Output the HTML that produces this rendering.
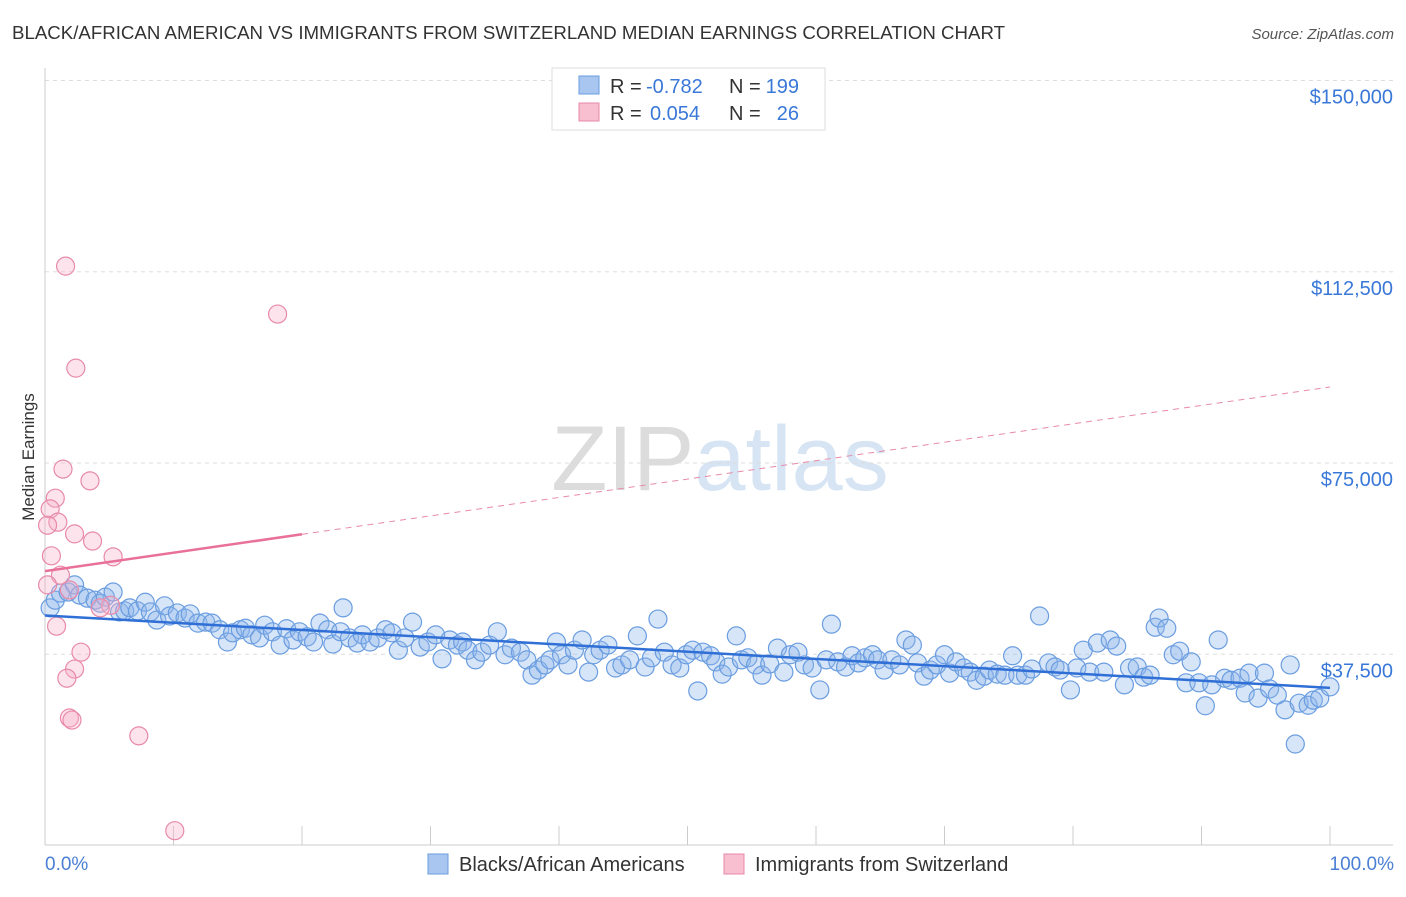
<!DOCTYPE html>
<html><head><meta charset="utf-8">
<style>
body{margin:0;background:#fff;font-family:"Liberation Sans",sans-serif;}
svg text{font-family:"Liberation Sans",sans-serif;}
</style></head>
<body>
<svg id="chart" width="1406" height="892" xmlns="http://www.w3.org/2000/svg">
<text x="12" y="39" font-size="18" fill="#333" textLength="993" lengthAdjust="spacingAndGlyphs">BLACK/AFRICAN AMERICAN VS IMMIGRANTS FROM SWITZERLAND MEDIAN EARNINGS CORRELATION CHART</text>
<text x="1394" y="39" font-size="15" fill="#555" text-anchor="end" font-style="italic">Source: ZipAtlas.com</text>
<text x="720" y="490" font-size="92" fill="#e6e6e6" text-anchor="middle" font-family="Liberation Serif"><tspan fill="#dcdcdc">ZIP</tspan><tspan fill="#d6e4f4" font-family="Liberation Sans">atlas</tspan></text>
<g id="grid"></g>
<g id="axes"></g>
<g id="marks"></g>
<text transform="translate(34,457) rotate(-90)" font-size="17" fill="#333" text-anchor="middle">Median Earnings</text>
<text x="45" y="870" font-size="19" fill="#4a7fd4">0.0%</text>
<text x="1394" y="870" font-size="19" fill="#4a7fd4" text-anchor="end">100.0%</text>
<g>
<rect x="552" y="68" width="273" height="62" fill="#fff" stroke="#ddd"/>
<rect x="579" y="76" width="20" height="18" fill="#a9c6f0" stroke="#6a9de0"/>
<rect x="579" y="103" width="20" height="18" fill="#f7bfd0" stroke="#e88aa8"/>
<text x="610" y="93" font-size="20" fill="#333">R =</text>
<text x="646" y="93" font-size="20" fill="#3a78d8">-0.782</text>
<text x="729" y="93" font-size="20" fill="#333">N =</text>
<text x="799" y="93" font-size="20" fill="#3a78d8" text-anchor="end">199</text>
<text x="610" y="120" font-size="20" fill="#333">R =</text>
<text x="650" y="120" font-size="20" fill="#3a78d8">0.054</text>
<text x="729" y="120" font-size="20" fill="#333">N =</text>
<text x="799" y="120" font-size="20" fill="#3a78d8" text-anchor="end">26</text>
</g>
<g>
<rect x="428" y="854" width="20" height="20" fill="#a9c6f0" stroke="#6a9de0"/>
<text x="459" y="871" font-size="20" fill="#333">Blacks/African Americans</text>
<rect x="724" y="854" width="20" height="20" fill="#f7bfd0" stroke="#e88aa8"/>
<text x="755" y="871" font-size="20" fill="#333">Immigrants from Switzerland</text>
</g>
</svg>
<script>
const yTicks=[37500,75000,112500,150000];
const yTickLabels=["$37,500","$75,000","$112,500","$150,000"];
const xTicks=[0,10,20,30,40,50,60,70,80,90,100];
const blueX=[0.4,0.8,1.2,1.8,2.3,2.7,3.3,3.9,4.3,4.7,5.3,5.8,6.2,6.6,7.2,7.8,8.2,8.7,9.3,9.7,10.3,10.9,11.3,11.9,12.5,13.0,13.6,14.2,14.6,15.2,15.6,16.1,16.7,17.1,17.7,18.3,18.8,19.3,19.8,20.4,20.9,21.4,22.0,22.4,23.0,23.2,23.7,24.3,24.7,25.3,25.9,26.5,27.0,27.5,28.0,28.6,29.2,29.8,30.4,30.9,31.5,32.1,32.5,32.9,33.5,34.0,34.6,35.2,35.8,36.3,37.0,37.5,37.9,38.4,38.9,39.3,39.8,40.2,40.7,41.2,41.8,42.3,42.7,43.2,43.8,44.4,44.9,45.5,46.1,46.7,47.2,47.7,48.2,48.8,49.4,49.9,50.4,50.8,51.2,51.8,52.2,52.7,53.2,53.8,54.2,54.7,55.3,55.8,56.4,57.0,57.5,58.0,58.6,59.1,59.7,60.3,60.8,61.2,61.7,62.3,62.8,63.3,63.8,64.4,64.8,65.3,65.9,66.5,67.0,67.5,67.9,68.4,68.9,69.4,70.0,70.4,70.9,71.5,72.0,72.5,73.1,73.5,74.1,74.7,75.3,75.7,76.3,76.8,77.4,78.1,78.6,79.0,79.8,80.3,80.8,81.3,81.9,82.4,82.9,83.4,84.0,84.4,85.0,85.5,86.0,86.4,86.7,87.3,87.8,88.3,88.8,89.2,89.8,90.3,90.8,91.3,91.8,92.3,93.0,93.4,93.7,94.4,94.9,95.3,95.9,96.5,96.9,97.3,97.6,98.3,98.7,99.2,100];
const blueY=[46.6,48.1,49.5,49.7,51.1,49.1,48.5,48.1,47.5,48.7,49.7,45.8,46.0,46.6,46.0,47.7,45.8,44.2,47.0,45.0,45.6,44.6,45.4,43.6,43.8,43.6,42.3,39.9,41.7,42.3,42.6,41.3,40.7,43.2,41.9,39.3,42.5,40.3,41.9,40.9,39.9,43.6,42.3,39.5,41.9,46.6,40.7,39.7,41.3,39.9,40.7,42.3,41.7,38.3,40.7,43.8,38.9,39.9,41.3,36.6,40.3,39.3,39.9,38.3,36.4,37.9,39.3,41.9,37.4,38.7,37.9,36.4,33.4,34.4,35.4,36.4,39.9,37.4,35.4,38.3,40.3,34.0,37.4,38.3,39.3,34.8,35.4,36.4,41.1,35.0,36.8,44.4,37.9,35.4,34.8,37.4,38.3,30.3,37.9,37.2,36.0,33.6,35.0,41.1,36.4,36.8,35.4,33.4,35.6,38.7,34.0,37.4,37.9,35.4,34.8,30.5,36.4,43.4,36.0,35.0,37.2,35.8,36.8,37.4,36.4,34.4,36.4,35.4,40.3,39.3,35.8,33.2,34.4,35.4,37.4,33.8,36.0,34.8,34.0,32.4,33.2,34.4,33.6,33.4,37.2,33.4,33.4,34.6,45.0,35.8,35.0,34.4,30.5,34.8,38.3,34.0,39.7,34.0,40.3,39.1,31.5,34.8,35.0,33.0,33.4,42.8,44.6,42.6,37.4,38.1,31.9,36.0,31.9,27.4,31.5,40.3,32.8,32.4,32.8,29.9,33.8,28.9,33.8,30.7,29.5,26.6,35.4,19.9,27.9,27.5,28.5,28.9,31.1];
const pinkX=[1.6,18.1,2.4,1.4,3.5,0.8,0.4,1.0,0.2,2.3,3.7,0.5,5.3,1.2,0.2,1.9,5.1,0.9,2.8,2.3,1.7,1.9,2.1,7.3,10.1,4.3];
const pinkY=[113.6,104.2,93.6,73.8,71.5,68.1,66.0,63.4,62.8,61.1,59.7,56.8,56.6,53.0,51.1,50.1,47.1,43.0,37.9,34.6,32.8,25.0,24.6,21.5,2.9,46.6];
const blueTrend=[45.1,30.9];
const pinkTrend=[53.8,89.9];
const pinkSolidEnd=20;

const NS="http://www.w3.org/2000/svg";
const X0=45,X1=1330,YB=845.5,PXK=5.1;
function xs(p){return X0+(X1-X0)*p/100;}
function ys(k){return YB-k*PXK;}
function mk(tag,attrs,parent){const e=document.createElementNS(NS,tag);for(const k in attrs)e.setAttribute(k,attrs[k]);parent.appendChild(e);return e;}
const grid=document.getElementById('grid'),axes=document.getElementById('axes'),marks=document.getElementById('marks');
yTicks.forEach((v,i)=>{
  const y=ys(v/1000);
  const l=mk('line',{x1:X0,x2:1393,y1:y,y2:y,stroke:'#ddd','stroke-dasharray':'4,4'},grid);
  
  
  const t=mk('text',{x:1393,y:y+23,'font-size':20,fill:'#3a78d8','text-anchor':'end'},grid);
  t.textContent=yTickLabels[i];
  
  
});
const xa=mk('line',{x1:X0,x2:1393,y1:845,y2:845,stroke:'#ccc'},axes);


const ya=mk('line',{x1:X0,x2:X0,y1:68,y2:845,stroke:'#ccc'},axes);


xTicks.forEach(p=>{
  const t=mk('line',{x1:xs(p),x2:xs(p),y1:826,y2:845,stroke:'#ccc'},axes);
  
  
});
blueX.forEach((x,i)=>{
  const c=mk('circle',{cx:xs(x),cy:ys(blueY[i]),r:9,fill:'rgba(140,180,235,0.35)',stroke:'#6a9de0','stroke-width':1.2},marks);
  
  
});
pinkX.forEach((x,i)=>{
  const c=mk('circle',{cx:xs(x),cy:ys(pinkY[i]),r:9,fill:'rgba(245,175,200,0.35)',stroke:'#e88aa8','stroke-width':1.2},marks);
  
  
});
const bt=mk('line',{x1:xs(0),y1:ys(blueTrend[0]),x2:xs(100),y2:ys(blueTrend[1]),stroke:'#2f6fd6','stroke-width':2.5},marks);


const pAt=p=>pinkTrend[0]+(pinkTrend[1]-pinkTrend[0])*p/100;
const pd=mk('line',{x1:xs(pinkSolidEnd),y1:ys(pAt(pinkSolidEnd)),x2:xs(100),y2:ys(pinkTrend[1]),stroke:'#e78aa8','stroke-width':1,'stroke-dasharray':'6,5'},marks);


const ps=mk('line',{x1:xs(0),y1:ys(pinkTrend[0]),x2:xs(pinkSolidEnd),y2:ys(pAt(pinkSolidEnd)),stroke:'#e8709a','stroke-width':2.5},marks);


</script>
</body></html>
